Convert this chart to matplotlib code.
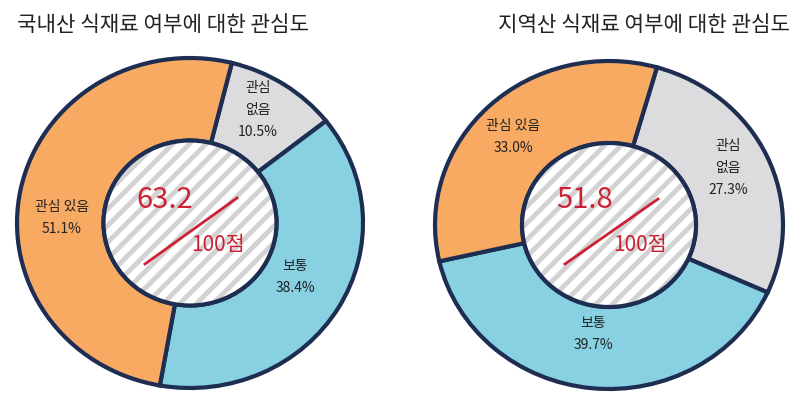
import matplotlib.pyplot as plt
from matplotlib.patches import Ellipse

plt.rcParams['font.family'] = ['Noto Sans CJK KR', 'DejaVu Sans']
plt.rcParams['hatch.linewidth'] = 3.5

# data
categories = ['관심\n없음', '보통', '관심 있음']
domestic = [10.5, 38.4, 51.1]
local = [27.3, 39.7, 33.0]
scores = [63.2, 51.8]
titles = ['국내산 식재료 여부에 대한 관심도', '지역산 식재료 여부에 대한 관심도']

navy = '#1e2d52'
colors = ['#dcdbdd', '#87d1e3', '#f8aa63']
red = '#cc2233'

fig = plt.figure(figsize=(8, 4.1), dpi=100)


def donut(cx, cy, rx, ry, values, start):
    m = 1.05
    ax = fig.add_axes([(cx - rx * m) / 800, (410 - cy - ry * m) / 410,
                       2 * rx * m / 800, 2 * ry * m / 410])
    ax.pie(values, colors=colors, startangle=90 - start, counterclock=False,
           radius=1, wedgeprops=dict(width=0.5, edgecolor=navy, linewidth=3))
    ax.add_patch(Ellipse((0, 0), 1.0, 1.0, facecolor='white', edgecolor='#d2d2d2',
                         hatch='//', linewidth=0))
    ax.add_patch(Ellipse((0, 0), 1.0, 1.0, facecolor='none', edgecolor=navy,
                         linewidth=3))
    ax.set_aspect('auto')
    ax.set_xlim(-m, m)
    ax.set_ylim(-m, m)
    ax.axis('off')
    return ax


donut(190, 224, 173, 165, domestic, 14)
donut(609, 226, 174, 164, local, 16)

# overlay for text, added last so it sits on top
bg = fig.add_axes([0, 0, 1, 1])
bg.set_xlim(0, 800)
bg.set_ylim(410, 0)
bg.axis('off')

# titles
bg.text(17, 25, titles[0], fontsize=15.3, color='#222222', ha='left', va='center')
bg.text(790, 25, titles[1], fontsize=15.3, color='#222222', ha='right', va='center')

# segment labels
lab_kw = dict(fontsize=10, color='#222222', ha='center', va='center', linespacing=1.7)
left_pos = [(258, 110), (295, 277), (62, 218)]
right_pos = [(728, 168), (593, 334), (513, 137)]
for name, v, (x, y) in zip(categories, domestic, left_pos):
    bg.text(x, y, f'{name}\n{v:.1f}%', **lab_kw)
for name, v, (x, y) in zip(categories, local, right_pos):
    bg.text(x, y, f'{name}\n{v:.1f}%', **lab_kw)

# centre scores
for s, (tx, ty, lx0, ly0, lx1, ly1, px, py) in zip(
        scores, [(165, 200, 145, 265, 237, 199, 218, 245),
                 (585, 200, 565, 265, 658, 200, 640, 245)]):
    bg.text(tx, ty, f'{s:.1f}', fontsize=21, color=red, ha='center', va='center')
    bg.plot([lx0, lx1], [ly0, ly1], color=red, linewidth=2)
    bg.text(px, py, '100점', fontsize=15, color=red, ha='center', va='center')

fig.savefig('out.png', dpi=100)
